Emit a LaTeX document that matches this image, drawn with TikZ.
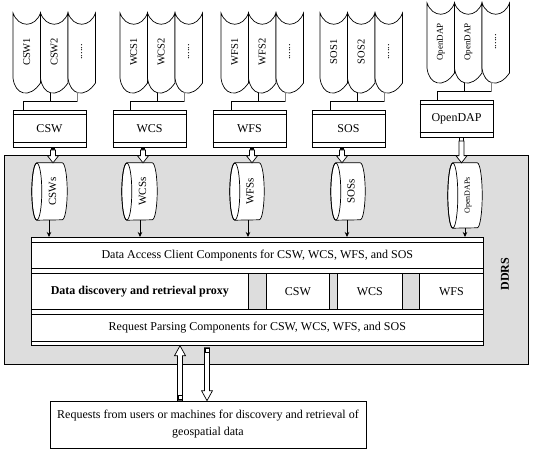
\documentclass[tikz,border=0pt]{standalone}
\usepackage{fontspec}
\setmainfont{Liberation Serif}
\usetikzlibrary{arrows.meta,calc}
\definecolor{ddrsgray}{RGB}{221,221,221}
\tikzset{
  ln/.style={line width=0.7bp, draw=black},
  svcbox/.style={draw, line width=0.7bp, fill=white, minimum width=73bp, minimum height=37bp, inner sep=0pt, font=\fontsize{12bp}{14bp}\selectfont},
  rowbox/.style={draw, line width=0.7bp, fill=white, inner sep=0pt, anchor=north west, font=\fontsize{12bp}{14bp}\selectfont},
  graycell/.style={draw, line width=0.7bp, fill=ddrsgray, inner sep=0pt, anchor=north west},
  doclabel/.style={rotate=90, inner sep=0pt},
  cyllabel/.style={rotate=90, inner sep=0pt},
  thinarrow/.style={line width=0.7bp, -{Stealth[length=5bp,width=4.5bp]}},
  hollow/.style={draw, fill=white, line width=0.7bp},
}
% document stack: name, x0, ytop, label1, label2, font
\newcommand\docstack[6]{%
  \foreach \i in {0,1,2}{%
    \pgfmathsetmacro\dsA{#2+27.5*\i}%
    \pgfmathsetmacro\dsB{#2+27.5*(\i+1)}%
    \draw[ln, fill=white] (\dsA,#3) -- (\dsA,#3+65) .. controls (\dsA+2,#3+82) and (\dsA+16.5,#3+86) .. (\dsB,#3+70) -- (\dsB,#3) .. controls (\dsB-5.5,#3+15) and (\dsA+5.5,#3+15) .. (\dsA,#3) -- cycle;
  }
  \node[doclabel, font=#6] (#1a) at (#2+13.75,#3+39) {#4};
  \node[doclabel, font=#6] (#1b) at (#2+41.25,#3+39) {#5};
  \node[doclabel, font=\fontsize{10.5bp}{12bp}\selectfont] (#1c) at (#2+68.75,#3+39) {......};
}
% service box: name, cx, cy, text
\newcommand\svc[4]{%
  \node[svcbox] (#1) at (#2,#3) {#4};
  \draw[ln] ([yshift=-5bp]#1.north west) -- ([yshift=-5bp]#1.north east);
  \draw[ln] ([yshift=5bp]#1.south west) -- ([yshift=5bp]#1.south east);
}
% tree from docs to box: name, x0, ytop, box
\newcommand\doctree[4]{%
  \coordinate (#1m) at (#2+37,#3+80);
  \coordinate (#1r) at (#2+64,#3+79);
  \coordinate (#1j) at (#2+37,#3+88.7);
  \coordinate (#1k) at (#2+10,#3+88.7);
  \draw[ln] (#1m) -- (#1j);
  \draw[ln] (#1k |- #4.north) -- (#1k) -- (#1k -| #1r);
  \draw[line width=0.7bp, draw=gray] (#1r) -- (#1j -| #1r);
}
% cylinder: name, xl, xr, yt, yb, label, font
\newcommand\cyl[7]{%
  \node[inner sep=0pt, minimum width={(#3-#2)*1bp}, minimum height={(#5-#4)*1bp}] (#1) at ({(#2+#3)/2},{(#4+#5)/2}) {};
  \draw[ln, fill=white] ([xshift=5bp]#1.north west) -- ([xshift=-5bp]#1.north east)
     arc[start angle=90, end angle=-90, x radius=5bp, y radius={(#5-#4)/2*1bp}]
     -- ([xshift=5bp]#1.south west)
     arc[start angle=270, end angle=90, x radius=5bp, y radius={(#5-#4)/2*1bp}] -- cycle;
  \draw[ln] ([xshift=5bp]#1.west) ellipse [x radius=5bp, y radius={(#5-#4)/2*1bp}];
  \node[cyllabel, font=#7] (#1l) at ([xshift=3bp]#1.center) {#6};
}
% hollow arrow: tail, tip, shaft half width, head half width, signed head length
\newcommand\harrow[5]{%
  \draw[hollow] let \p1=(#1), \p2=(#2) in
    ({\x1-#3},\y1) -- ({\x1-#3},{\y2+(#5)}) -- ({\x1-#4},{\y2+(#5)}) -- (\x1,\y2)
    -- ({\x1+#4},{\y2+(#5)}) -- ({\x1+#3},{\y2+(#5)}) -- ({\x1+#3},\y1) -- cycle;
}
% top hollow arrow with small black tail square: tail coord, cylinder node
\newcommand\toparrow[2]{%
  \fill ([xshift=-2bp]#1) rectangle ([xshift=2bp,yshift=3.3bp]#1);
  \harrow{#1}{#1 |- #2.north}{2.5bp}{5.5bp}{7bp}
}
\begin{document}
\begin{tikzpicture}[x=1bp,y=-1bp]
\useasboundingbox (0,0) rectangle (535,450);
\fill[white] (0,0) rectangle (535,450);

% ---- top document stacks
\docstack{dCSW}{13}{13}{CSW1}{CSW2}{\fontsize{10.5bp}{12bp}\selectfont}
\docstack{dWCS}{120}{13}{WCS1}{WCS2}{\fontsize{10.5bp}{12bp}\selectfont}
\docstack{dWFS}{221}{13}{WFS1}{WFS2}{\fontsize{10.5bp}{12bp}\selectfont}
\docstack{dSOS}{320}{13}{SOS1}{SOS2}{\fontsize{10.5bp}{12bp}\selectfont}
\docstack{dDAP}{427}{3}{OpenDAP}{OpenDAP}{\fontsize{9bp}{10bp}\selectfont}

% ---- service boxes
\svc{bCSW}{49.5}{128.5}{CSW}
\svc{bWCS}{149.5}{128.5}{WCS}
\svc{bWFS}{249.5}{128.5}{WFS}
\svc{bSOS}{348.5}{128.5}{SOS}
\svc{bDAP}{456.5}{118.5}{OpenDAP}

\doctree{dCSW}{13}{13}{bCSW}
\doctree{dWCS}{120}{13}{bWCS}
\doctree{dWFS}{221}{13}{bWFS}
\doctree{dSOS}{320}{13}{bSOS}
\doctree{dDAP}{427}{3}{bDAP}

% ---- DDRS area
\node[draw, line width=0.7bp, fill=ddrsgray, anchor=north west, inner sep=0pt,
      minimum width=524bp, minimum height=209bp] (ddrs) at (4,155) {};
\node[rotate=90, font=\fontsize{12bp}{14bp}\selectfont\bfseries] (ddrsl) at (505,274) {DDRS};

% ---- cylinders
\cyl{cCSW}{32}{67}{163}{220}{CSWs}{\fontsize{11bp}{12bp}\selectfont}
\cyl{cWCS}{122}{157}{163}{220}{WCSs}{\fontsize{11bp}{12bp}\selectfont}
\cyl{cWFS}{230}{264}{163}{220}{WFSs}{\fontsize{11bp}{12bp}\selectfont}
\cyl{cSOS}{331}{365}{163}{220}{SOSs}{\fontsize{11bp}{12bp}\selectfont}
\cyl{cDAP}{448}{482}{163}{228}{OpenDAPs}{\fontsize{8bp}{9bp}\selectfont}

% ---- hollow arrows from boxes to cylinders
\coordinate (sCSW) at (53,150);
\coordinate (sWCS) at (143,150);
\coordinate (sWFS) at (252,150);
\coordinate (sSOS) at (342,150);
\coordinate (sDAP) at (461.5,141);
\toparrow{sCSW}{cCSW}
\toparrow{sWCS}{cWCS}
\toparrow{sWFS}{cWFS}
\toparrow{sSOS}{cSOS}
\draw[ln, fill=white] ([xshift=-2bp]sDAP) rectangle ([xshift=2bp,yshift=4bp]sDAP);
\harrow{sDAP}{sDAP |- cDAP.north}{2.5bp}{5.5bp}{7bp}

% ---- central stack
\node[draw, line width=0.7bp, fill=white, anchor=north west, inner sep=0pt,
      minimum width=452bp, minimum height=108bp] (frame) at (31,237) {};
\node[rowbox, minimum width=452bp, minimum height=26bp] (rDA) at (31,242)
  {Data Access Client Components for CSW, WCS, WFS, and SOS};
\node[rowbox, minimum width=217bp, minimum height=36bp, font=\fontsize{12bp}{14bp}\selectfont\bfseries] (rPX) at (31,273)
  {Data discovery and retrieval proxy};
\node[graycell, minimum width=18bp, minimum height=36bp] (g1) at (248,273) {};
\node[rowbox, minimum width=63bp, minimum height=36bp] (rCSW) at (266,273) {CSW};
\node[graycell, minimum width=8bp, minimum height=36bp] (g2) at (329,273) {};
\node[rowbox, minimum width=65bp, minimum height=36bp] (rWCS) at (337,273) {WCS};
\node[graycell, minimum width=17bp, minimum height=36bp] (g3) at (402,273) {};
\node[rowbox, minimum width=64bp, minimum height=36bp] (rWFS) at (419,273) {WFS};
\node[rowbox, minimum width=452bp, minimum height=27bp] (rRQ) at (31,314)
  {Request Parsing Components for CSW, WCS, WFS, and SOS};

% ---- thin arrows cylinders -> stack
\coordinate (oCSW) at (49,0);
\coordinate (oWCS) at (140,0);
\coordinate (oWFS) at (248,0);
\coordinate (oSOS) at (347,0);
\coordinate (oDAP) at (465,0);
\draw[thinarrow] (oCSW |- cCSW.south) -- (oCSW |- frame.north);
\draw[thinarrow] (oWCS |- cWCS.south) -- (oWCS |- frame.north);
\draw[thinarrow] (oWFS |- cWFS.south) -- (oWFS |- frame.north);
\draw[thinarrow] (oSOS |- cSOS.south) -- (oSOS |- frame.north);
\draw[thinarrow] (oDAP |- cDAP.south) -- (oDAP |- frame.north);

% ---- request box
\node[draw, line width=0.7bp, fill=white, minimum width=316bp, minimum height=47bp, inner sep=0pt,
      align=center, font=\fontsize{12bp}{17bp}\selectfont] (req) at (208,424.5)
  {Requests from users or machines for discovery and retrieval of\\geospatial data};

% ---- arrows between request box and stack
\coordinate (uA) at (180,0);
\coordinate (dA) at (207,0);
\coordinate (uT) at (uA |- req.north);
\coordinate (dB) at (dA |- frame.south);
\coordinate (dT) at ([yshift=-2bp]dB);
\harrow{uT}{uA |- frame.south}{2.5bp}{5.5bp}{-10bp}
\draw[ln, fill=white] ([xshift=-2bp,yshift=1bp]uT) rectangle ([xshift=2bp,yshift=5bp]uT);
\harrow{dT}{dA |- req.north}{2.5bp}{5.5bp}{10bp}
\draw[ln, fill=white] ([xshift=-2bp,yshift=-1bp]dT) rectangle ([xshift=2bp,yshift=-5bp]dT);
\end{tikzpicture}
\end{document}
